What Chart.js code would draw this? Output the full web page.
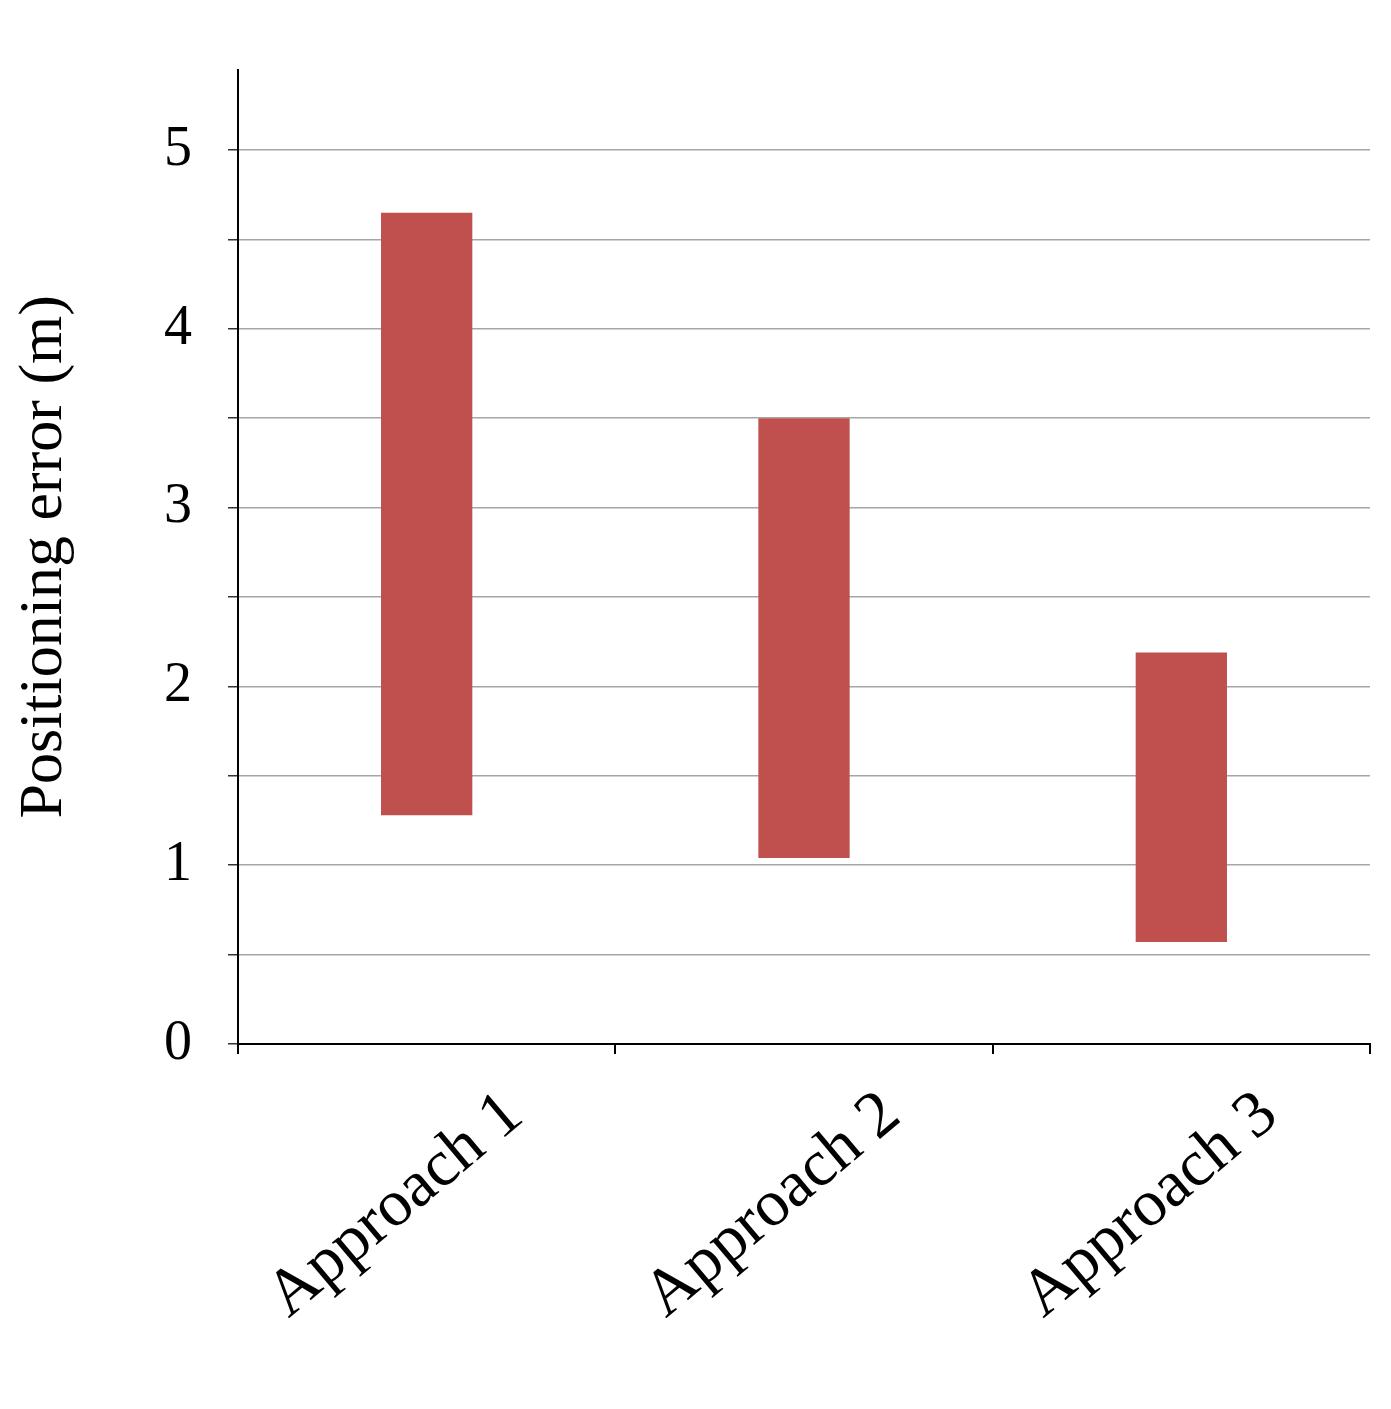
<!DOCTYPE html>
<html><head><meta charset="utf-8">
<script src="https://cdn.jsdelivr.net/npm/chart.js@4/dist/chart.umd.min.js"></script>
<style>html,body{margin:0;padding:0;background:#fff}#w{width:1391px;height:1409px}</style>
</head><body><div id="w"><canvas id="c"></canvas></div>
<script>
const categories = ["Approach 1", "Approach 2", "Approach 3"];
const lowValues = [1.28, 1.04, 0.57];
const highValues = [4.65, 3.50, 2.19];
const yTickLabels = [0, 1, 2, 3, 4, 5];
const FONT = "'Liberation Serif', 'Times New Roman', serif";

new Chart(document.getElementById('c'), {
  type: 'bar',
  data: {
    labels: categories,
    datasets: [{
      data: categories.map((_, i) => [lowValues[i], highValues[i]]),
      backgroundColor: '#C0504D',
      borderWidth: 0,
      barPercentage: 0.242,
      categoryPercentage: 1
    }]
  },
  options: {
    responsive: true, maintainAspectRatio: false, animation: false,
    layout: { padding: { top: -15, right: 21, left: 8, bottom: 0 } },
    plugins: { legend: { display: false }, tooltip: { enabled: false } },
    scales: {
      x: {
        offset: true,
        grid: { offset: true, drawOnChartArea: false, tickLength: 10, tickColor: '#000', lineWidth: 2 },
        border: { color: '#000', width: 2 },
        ticks: { color: '#000', font: { family: FONT, size: 66 }, minRotation: 40, maxRotation: 40, labelOffset: 88, padding: 22 },
        afterFit: s => { s.height = 1409 - 1044; }
      },
      y: {
        min: 0, max: 5.45,
        afterBuildTicks: s => { s.ticks = s.ticks.filter(t => Math.abs(t.value * 2 - Math.round(t.value * 2)) < 1e-6); },
        grid: { color: ctx => ctx.tick && ctx.tick.value === 0 ? 'rgba(0,0,0,0)' : '#a6a6a6', lineWidth: 1.5, tickLength: 10, tickColor: '#333' },
        border: { color: '#000', width: 2 },
        ticks: { stepSize: 0.5, color: '#000', padding: 36, font: { family: FONT, size: 56 },
          callback: v => yTickLabels.includes(v) ? String(v) : '' },
        title: { display: true, text: 'Positioning error (m)', color: '#000', font: { family: FONT, size: 62 }, padding: 0 },
        afterFit: s => { s.width = 230; }
      }
    }
  }
});
</script></body></html>
